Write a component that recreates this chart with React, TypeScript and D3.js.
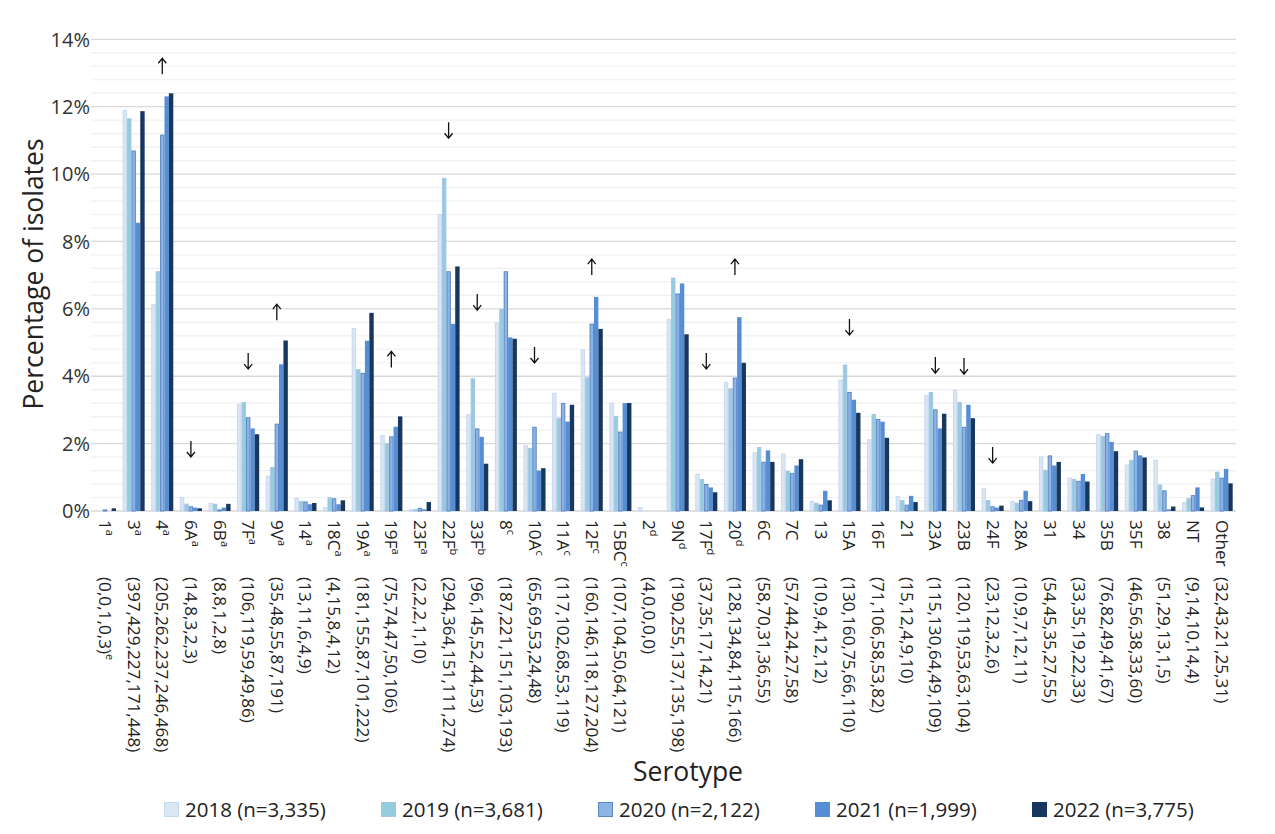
import React from "react";
import * as d3 from "d3";

// serotype labels, superscripts and isolate counts per year
const serotypes = ["1","3","4","6A","6B","7F","9V","14","18C","19A","19F","23F","22F","33F","8","10A","11A","12F","15BC","2","9N","17F","20","6C","7C","13","15A","16F","21","23A","23B","24F","28A","31","34","35B","35F","38","NT","Other"];
const superscripts = ["a","a","a","a","a","a","a","a","a","a","a","a","b","b","c","c","c","c","c","d","d","d","d","","","","","","","","","","","","","","","","",""];

const years = ["2018", "2019", "2020", "2021", "2022"];
const totals = [3335, 3681, 2122, 1999, 3775];
const legendLabels = ["2018 (n=3,335)", "2019 (n=3,681)", "2020 (n=2,122)", "2021 (n=1,999)", "2022 (n=3,775)"];

const counts2018 = [0,397,205,14,8,106,35,13,4,181,75,2,294,96,187,65,117,160,107,4,190,37,128,58,57,10,130,71,15,115,120,23,10,54,33,76,46,51,9,32];
const counts2019 = [0,429,262,8,8,119,48,11,15,155,74,2,364,145,221,69,102,146,104,0,255,35,134,70,44,9,160,106,12,130,119,12,9,45,35,82,56,29,14,43];
const counts2020 = [1,227,237,3,1,59,55,6,8,87,47,2,151,52,151,53,68,118,50,0,137,17,84,31,24,4,75,58,4,64,53,3,7,35,19,49,38,13,10,21];
const counts2021 = [0,171,246,2,2,49,87,4,4,101,50,1,111,44,103,24,53,127,64,0,135,14,115,36,27,12,66,53,9,49,63,2,12,27,22,41,33,1,14,25];
const counts2022 = [3,448,468,3,8,86,191,9,12,222,106,10,274,53,193,48,119,204,121,0,198,21,166,55,58,12,110,82,10,109,104,6,11,55,33,67,60,5,4,31];
const countSeries = [counts2018, counts2019, counts2020, counts2021, counts2022];

// significant trend arrows
const arrowCats = ["4","6A","7F","9V","19F","22F","33F","10A","12F","17F","20","15A","23A","23B","24F"];
const arrowDirs = ["up","down","down","up","up","down","down","down","up","down","up","down","down","down","down"];
const arrowLevels = [13.2,1.84,4.45,5.9,4.5,11.3,6.2,4.63,7.24,4.45,7.24,5.46,4.33,4.3,1.66];

const yTicks = [0, 2, 4, 6, 8, 10, 12, 14];

const fills = ["#dce6f2", "#93cddd", "#8eb4e3", "#558ed5", "#17375e"];
const strokes = ["#c5d9f1", "#a7c4e6", "#5b87c5", "#558ed5", "#17375e"];

const FONT = "'Open Sans', Lato, sans-serif";

export default function App() {
  const width = 1275;
  const height = 834;
  const left = 90.7;
  const right = 1236;
  const top = 39.3;
  const bottom = 511;

  const x = d3.scaleBand<string>().domain(serotypes).range([left, right]);
  const xs = d3.scaleBand<string>().domain(years).range([3.3, x.bandwidth() - 3.3]);
  const y = d3.scaleLinear().domain([0, 14]).range([bottom, top]);
  const minor = d3.range(0, 14.01, 0.4).filter((v) => Math.abs(v / 2 - Math.round(v / 2)) > 0.01);

  const legendX = d3.scaleLinear().domain([0, 4]).range([164, 1032]);

  return (
    <svg width={width} height={height} style={{ position: "absolute", left: 0, top: 0, background: "#fff" }} fontFamily={FONT}>
      {/* minor grid */}
      {minor.map((v) => (
        <line key={"m" + v} x1={left} x2={right} y1={y(v)} y2={y(v)} stroke="#f0f0f0" strokeWidth={1.2} />
      ))}
      {/* major grid + ticks */}
      {yTicks.map((t) => (
        <g key={t}>
          <line x1={left} x2={right} y1={y(t)} y2={y(t)} stroke="#d9d9d9" strokeWidth={1.3} />
          <text x={90} y={y(t)} dy="0.36em" textAnchor="end" fontSize={20} fill="#333">
            {t}%
          </text>
        </g>
      ))}

      {/* bars */}
      {serotypes.map((s, i) => (
        <g key={s} transform={`translate(${x(s)},0)`}>
          {countSeries.map((series, k) => {
            const pct = (series[i] / totals[k]) * 100;
            const x0 = xs(years[k]) ?? 0;
            const h = y(0) - y(pct);
            if (h <= 0) return null;
            const outlined = k < 3;
            return (
              <rect
                key={k}
                x={outlined ? x0 + 0.5 : x0}
                y={y(pct) + (outlined ? 0.5 : 0)}
                width={outlined ? xs.bandwidth() - 1 : xs.bandwidth()}
                height={Math.max(outlined ? h - 0.5 : h, 0.5)}
                fill={fills[k]}
                stroke={outlined ? strokes[k] : "none"}
                strokeWidth={1}
              />
            );
          })}
        </g>
      ))}

      {/* arrows */}
      {arrowCats.map((c, i) => {
        const cx = (x(c) ?? 0) + x.bandwidth() / 2;
        const cy = y(arrowLevels[i]);
        const up = arrowDirs[i] === "up";
        const tipY = up ? cy - 8 : cy + 8;
        const tailY = up ? cy + 8 : cy - 8;
        const hd = up ? 5 : -5;
        return (
          <path
            key={c}
            d={`M${cx},${tailY}L${cx},${tipY}M${cx - 4},${tipY + hd}L${cx},${tipY}L${cx + 4},${tipY + hd}`}
            fill="none"
            stroke="#111"
            strokeWidth={1.3}
          />
        );
      })}

      {/* category labels */}
      {serotypes.map((s, i) => {
        const cx = (x(s) ?? 0) + x.bandwidth() / 2;
        const txt = "(" + countSeries.map((c) => c[i]).join(",") + ")";
        return (
          <g key={"l" + s} transform={`translate(${cx},520) rotate(90)`} fontSize={17.2} fill="#222">
            <text x={0} y={6}>
              {s}
              {superscripts[i] && (
                <tspan fontSize={11} dy={-7}>
                  {superscripts[i]}
                </tspan>
              )}
            </text>
            <text x={57} y={6}>
              {txt}
              {i === 0 && (
                <tspan fontSize={11} dy={-7}>
                  e
                </tspan>
              )}
            </text>
          </g>
        );
      })}

      {/* axis titles */}
      <text x={688} y={781} textAnchor="middle" fontSize={26.5} fill="#222">
        Serotype
      </text>
      <text transform={`translate(43,274) rotate(-90)`} textAnchor="middle" fontSize={26.5} fill="#222">
        Percentage of isolates
      </text>

      {/* legend */}
      {legendLabels.map((l, k) => (
        <g key={l} transform={`translate(${legendX(k)},802)`}>
          <rect x={0.5} y={0.5} width={14} height={14} fill={fills[k]} stroke={strokes[k]} strokeWidth={1} />
          <text x={21} y={14.5} fontSize={20.5} fill="#222">
            {l}
          </text>
        </g>
      ))}
    </svg>
  );
}
